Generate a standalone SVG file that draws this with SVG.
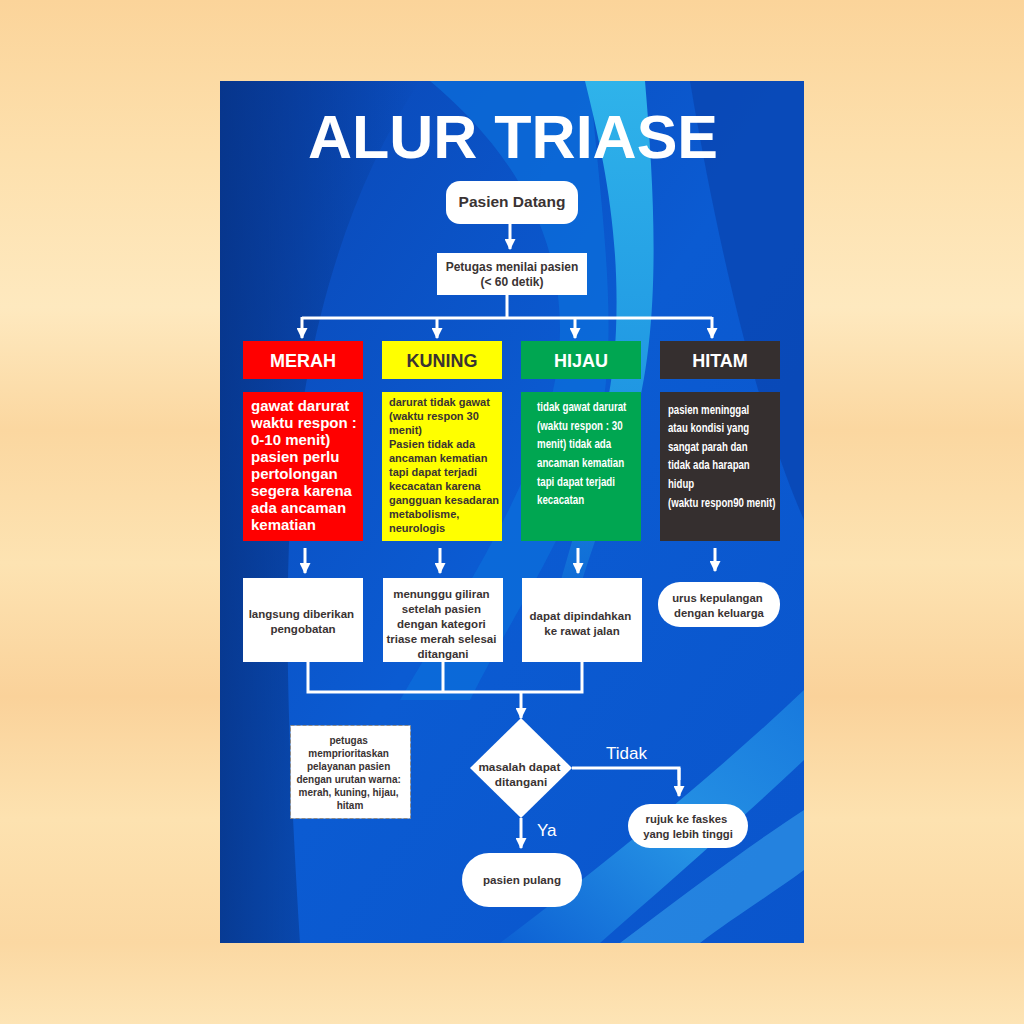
<svg xmlns="http://www.w3.org/2000/svg" width="1024" height="1024" viewBox="0 0 1024 1024">
<defs>
<linearGradient id="wood" x1="0" y1="0" x2="0" y2="1">
<stop offset="0" stop-color="#fbd49a"/>
<stop offset="0.15" stop-color="#fde0ad"/>
<stop offset="0.3" stop-color="#fee9bf"/>
<stop offset="0.42" stop-color="#fbd7a0"/>
<stop offset="0.55" stop-color="#fde3b2"/>
<stop offset="0.68" stop-color="#fad29a"/>
<stop offset="0.8" stop-color="#fde2b0"/>
<stop offset="0.92" stop-color="#fbd8a2"/>
<stop offset="1" stop-color="#fde4b5"/>
</linearGradient>
<linearGradient id="base" x1="0" y1="0" x2="1" y2="1">
<stop offset="0" stop-color="#0a46b4"/>
<stop offset="0.5" stop-color="#0b5bd2"/>
<stop offset="1" stop-color="#0a55cc"/>
</linearGradient>
<linearGradient id="leftdark" x1="0" y1="0" x2="1" y2="0">
<stop offset="0" stop-color="#06307f" stop-opacity="0.75"/>
<stop offset="1" stop-color="#06307f" stop-opacity="0"/>
</linearGradient>
<linearGradient id="cyan" x1="0" y1="0" x2="0" y2="1">
<stop offset="0" stop-color="#2fb3ea"/>
<stop offset="0.6" stop-color="#1f95e2"/>
<stop offset="1" stop-color="#0f70d8" stop-opacity="0.4"/>
</linearGradient>
<linearGradient id="lr" x1="0" y1="1" x2="1" y2="0">
<stop offset="0" stop-color="#0d62d4"/>
<stop offset="0.5" stop-color="#2a9ce8"/>
<stop offset="1" stop-color="#1a7fe0"/>
</linearGradient>
<marker id="ah" viewBox="0 0 10 10" refX="9" refY="5" markerWidth="11" markerHeight="11" markerUnits="userSpaceOnUse" orient="auto">
<path d="M0,0 L10,5 L0,10 z" fill="#ffffff"/>
</marker>
<style>
.c{fill:none;stroke:#ffffff;stroke-width:3}
.a{marker-end:url(#ah)}
.t{font-family:"Liberation Sans",Arial,sans-serif;font-weight:bold}
.d{fill:#3a3333}
.w{fill:#ffffff}
.box{fill:#ffffff}
.lbl{font-family:"Liberation Sans",Arial,sans-serif;fill:#ffffff;font-size:17px}
</style>
</defs>
<rect x="0" y="0" width="1024" height="1024" fill="url(#wood)"/>
<g id="poster-bg">
<rect x="220" y="81" width="584" height="862" fill="url(#base)"/>
<path d="M220,81 H420 C340,200 300,360 290,520 C284,640 290,780 300,943 H220 Z" fill="url(#leftdark)"/>
<path d="M430,81 H590 C600,200 620,330 600,420 C580,520 520,600 470,700 L400,700 C470,580 560,450 560,330 C560,220 500,140 430,81 Z" fill="#0b6fdc" opacity="0.7"/>
<path d="M585,81 H645 C655,200 662,330 632,430 C612,500 585,560 565,640 L545,640 C572,530 612,430 616,330 C620,230 602,150 585,81 Z" fill="url(#cyan)"/>
<path d="M690,81 H804 V520 C760,420 720,260 690,81 Z" fill="#083fa8" opacity="0.6"/>
<path d="M500,943 C610,860 720,770 804,690 V760 C730,830 660,890 600,943 Z" fill="url(#lr)" opacity="0.85"/>
<path d="M620,943 C690,890 750,845 804,810 V870 C770,895 730,920 700,943 Z" fill="#3aa8ee" opacity="0.55"/>
</g>
<text class="t w" x="513" y="158" font-size="61" text-anchor="middle">ALUR TRIASE</text>
<g id="connectors">
<path class="c a" d="M510,224 V249"/>
<path class="c" d="M507,295 V318 M302,318 H712"/>
<path class="c a" d="M302,317 V338"/>
<path class="c a" d="M437,317 V338"/>
<path class="c a" d="M575,317 V338"/>
<path class="c a" d="M712,317 V338"/>
<path class="c a" d="M305,548 V573"/>
<path class="c a" d="M440,548 V573"/>
<path class="c a" d="M578,548 V573"/>
<path class="c a" d="M715,548 V571"/>
<path class="c" d="M308,662 V692 H582 V662 M443,662 V692"/>
<path class="c a" d="M521,691 V718"/>
<path class="c" d="M572,768 H679 V780"/>
<path class="c a" d="M679,768 V796"/>
<path class="c a" d="M521,818 V848"/>
<text class="lbl" x="606" y="759">Tidak</text>
<text class="lbl" x="537" y="836">Ya</text>
</g>
<g id="pasien-datang">
<rect class="box" x="446" y="181" width="132" height="43" rx="14"/>
<text class="t d" x="512" y="207" font-size="15.5" text-anchor="middle">Pasien Datang</text>
</g>
<g id="petugas-menilai">
<rect class="box" x="437" y="253" width="150" height="42"/>
<text class="t d" x="512" y="271" font-size="12" text-anchor="middle">Petugas menilai pasien</text>
<text class="t d" x="512" y="286" font-size="12" text-anchor="middle">(&lt; 60 detik)</text>
</g>
<g id="merah">
<rect x="243" y="341" width="120" height="38" fill="#ff0000"/>
<text class="t w" x="303" y="367" font-size="18" text-anchor="middle">MERAH</text>
</g>
<g id="kuning">
<rect x="382" y="341" width="120" height="38" fill="#ffff00"/>
<text class="t d" x="442" y="367" font-size="18" text-anchor="middle">KUNING</text>
</g>
<g id="hijau">
<rect x="521" y="341" width="120" height="38" fill="#00a651"/>
<text class="t w" x="581" y="367" font-size="18" text-anchor="middle">HIJAU</text>
</g>
<g id="hitam">
<rect x="660" y="341" width="120" height="38" fill="#352f2f"/>
<text class="t w" x="720" y="367" font-size="18" text-anchor="middle">HITAM</text>
</g>
<g id="merah-desc">
<rect x="243" y="392" width="120" height="149" fill="#ff0000"/>
<text class="t w" font-size="15">
<tspan x="251" y="411">gawat darurat</tspan>
<tspan x="251" y="428">waktu respon :</tspan>
<tspan x="251" y="445">0-10 menit)</tspan>
<tspan x="251" y="462">pasien perlu</tspan>
<tspan x="251" y="479">pertolongan</tspan>
<tspan x="251" y="496">segera karena</tspan>
<tspan x="251" y="513">ada ancaman</tspan>
<tspan x="251" y="530">kematian</tspan>
</text>
</g>
<g id="kuning-desc">
<rect x="382" y="392" width="120" height="149" fill="#ffff00"/>
<text class="t d" font-size="11">
<tspan x="389" y="406">darurat tidak gawat</tspan>
<tspan x="389" y="420">(waktu respon 30</tspan>
<tspan x="389" y="434">menit)</tspan>
<tspan x="389" y="448">Pasien tidak ada</tspan>
<tspan x="389" y="462">ancaman kematian</tspan>
<tspan x="389" y="476">tapi dapat terjadi</tspan>
<tspan x="389" y="490">kecacatan karena</tspan>
<tspan x="389" y="504">gangguan kesadaran</tspan>
<tspan x="389" y="518">metabolisme,</tspan>
<tspan x="389" y="532">neurologis</tspan>
</text>
</g>
<g id="hijau-desc">
<rect x="521" y="392" width="120" height="149" fill="#00a651"/>
<g transform="translate(537,0) scale(0.75,1)">
<text class="t w" font-size="13">
<tspan x="0" y="411">tidak gawat darurat</tspan>
<tspan x="0" y="430">(waktu respon : 30</tspan>
<tspan x="0" y="448">menit) tidak ada</tspan>
<tspan x="0" y="467">ancaman kematian</tspan>
<tspan x="0" y="486">tapi dapat terjadi</tspan>
<tspan x="0" y="504">kecacatan</tspan>
</text>
</g>
</g>
<g id="hitam-desc">
<rect x="660" y="392" width="120" height="149" fill="#352f2f"/>
<g transform="translate(668,0) scale(0.77,1)">
<text class="t w" font-size="12.5">
<tspan x="0" y="414">pasien meninggal</tspan>
<tspan x="0" y="432">atau kondisi yang</tspan>
<tspan x="0" y="451">sangat parah dan</tspan>
<tspan x="0" y="469">tidak ada harapan</tspan>
<tspan x="0" y="488">hidup</tspan>
<tspan x="0" y="507">(waktu respon90 menit)</tspan>
</text>
</g>
</g>
<g id="langsung">
<rect class="box" x="243" y="578" width="120" height="84"/>
<text class="t d" font-size="11.5" text-anchor="middle">
<tspan x="303" y="618">langsung diberikan</tspan>
<tspan x="303" y="633">pengobatan</tspan>
</text>
</g>
<g id="menunggu">
<rect class="box" x="383" y="578" width="120" height="84"/>
<text class="t d" font-size="11.5" text-anchor="middle">
<tspan x="443" y="598">menunggu giliran</tspan>
<tspan x="443" y="613">setelah pasien</tspan>
<tspan x="443" y="628">dengan kategori</tspan>
<tspan x="443" y="643">triase merah selesai</tspan>
<tspan x="443" y="658">ditangani</tspan>
</text>
</g>
<g id="dipindahkan">
<rect class="box" x="522" y="578" width="120" height="84"/>
<text class="t d" font-size="11.5" text-anchor="middle">
<tspan x="582" y="620">dapat dipindahkan</tspan>
<tspan x="582" y="635">ke rawat jalan</tspan>
</text>
</g>
<g id="kepulangan">
<rect class="box" x="658" y="582" width="122" height="45" rx="22"/>
<text class="t d" font-size="11.3" text-anchor="middle">
<tspan x="719" y="602">urus kepulangan</tspan>
<tspan x="719" y="617">dengan keluarga</tspan>
</text>
</g>
<g id="catatan">
<rect x="290.5" y="725.5" width="120" height="93" fill="#ffffff" stroke="#8a8a8a" stroke-width="1" stroke-dasharray="4,2"/>
<text class="t d" font-size="10" text-anchor="middle">
<tspan x="350" y="744">petugas</tspan>
<tspan x="350" y="757">memprioritaskan</tspan>
<tspan x="350" y="770">pelayanan pasien</tspan>
<tspan x="350" y="783">dengan urutan warna:</tspan>
<tspan x="350" y="796">merah, kuning, hijau,</tspan>
<tspan x="350" y="809">hitam</tspan>
</text>
</g>
<g id="keputusan">
<path class="box" d="M521,718 L572,768 L521,818 L470,768 Z"/>
<text class="t d" font-size="11.8" text-anchor="middle">
<tspan x="521" y="771">masalah dapat</tspan>
<tspan x="521" y="786">ditangani</tspan>
</text>
</g>
<g id="rujuk">
<rect class="box" x="628" y="804" width="120" height="44" rx="22"/>
<text class="t d" font-size="11.3" text-anchor="middle">
<tspan x="688" y="823">rujuk ke faskes</tspan>
<tspan x="688" y="838">yang lebih tinggi</tspan>
</text>
</g>
<g id="pulang">
<rect class="box" x="462" y="853" width="120" height="54" rx="27"/>
<text class="t d" font-size="11.6" text-anchor="middle" x="522" y="884">pasien pulang</text>
</g>
</svg>
